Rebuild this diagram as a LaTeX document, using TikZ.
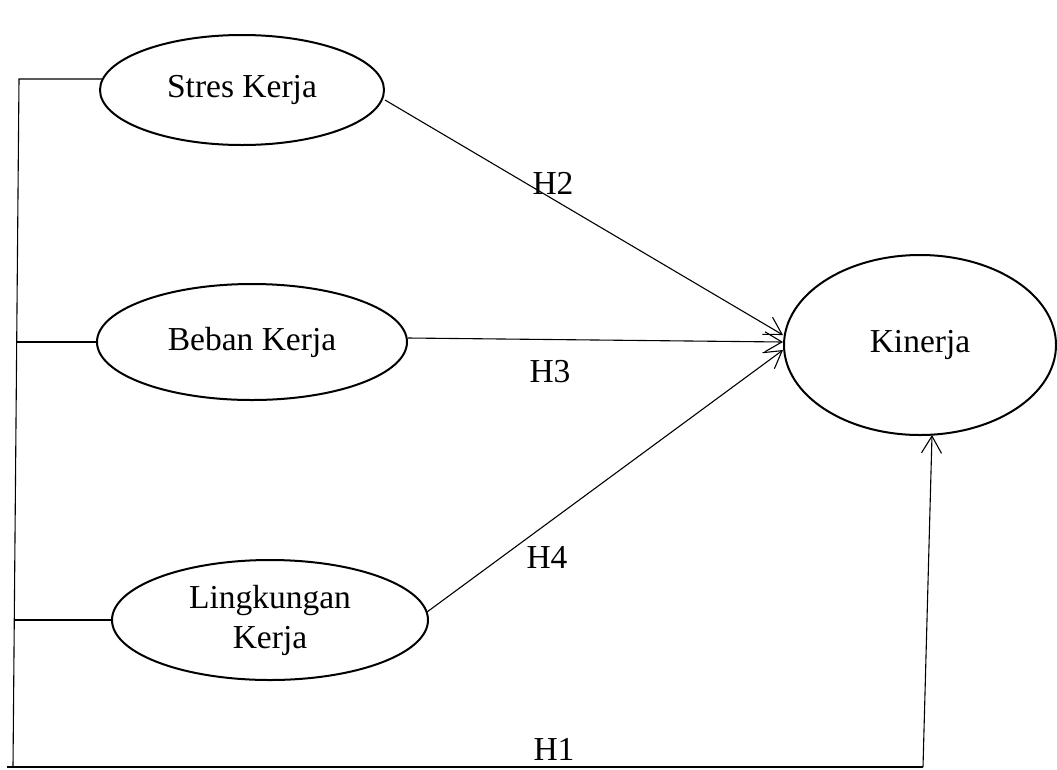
\documentclass[tikz,border=0pt]{standalone}
\usepackage{fontspec}
\setmainfont{Liberation Serif}
\usetikzlibrary{arrows.meta,shapes.geometric}
\begin{document}
\begin{tikzpicture}[x=1pt,y=-1pt,
  var/.style={draw,ellipse,line width=2pt,inner sep=0pt,align=center,font=\fontsize{33.5}{40}\selectfont},
  conn/.style={line width=1.1pt},
  arr/.style={conn,-{Straight Barb[length=17pt,width=20pt,line width=1.1pt]}},
  lab/.style={font=\fontsize{33.5}{38}\selectfont}]
\useasboundingbox (0,0) rectangle (1057,769);
\node[var,minimum width=284pt,minimum height=110pt] (stres) at (242,90) {Stres Kerja};
\node[var,minimum width=310pt,minimum height=116pt] (beban) at (252,342) {Beban Kerja};
\node[var,minimum width=316pt,minimum height=120pt] (ling) at (270,620) {Lingkungan\\Kerja};
\node[var,minimum width=272pt,minimum height=180pt] (kin) at (920,345) {Kinerja};
% left spine
\coordinate (sTop) at (19,79);
\coordinate (sMid) at (17,342);
\coordinate (sLow) at (15,620);
\coordinate (sBot) at (13,767);
\coordinate (bL) at (7,767);
\coordinate (bR) at (923,767);
\coordinate (stresL) at (102,79);
\coordinate (bebanL) at (97,342);
\coordinate (lingL) at (112,620);
\draw[conn] (stresL) -- (sTop) -- (sBot);
\draw[conn] (bebanL) -- (sMid);
\draw[conn] (lingL) -- (sLow);
\draw[conn] (bL) -- (bR);
\draw[arr] (bR) -- (932,435);
% hypotheses arrows
\coordinate (kS) at (783,335);
\coordinate (kB) at (783,342);
\coordinate (kL) at (783,350);
\draw[arr] (385,100) -- (kS);
\draw[arr] (408,338) -- (kB);
\draw[arr] (427,612) -- (kL);
\node[lab] (h2) at (553,183) {H2};
\node[lab] (h3) at (550,372) {H3};
\node[lab] (h4) at (547,557) {H4};
\node[lab] (h1) at (554,749) {H1};
\end{tikzpicture}
\end{document}
